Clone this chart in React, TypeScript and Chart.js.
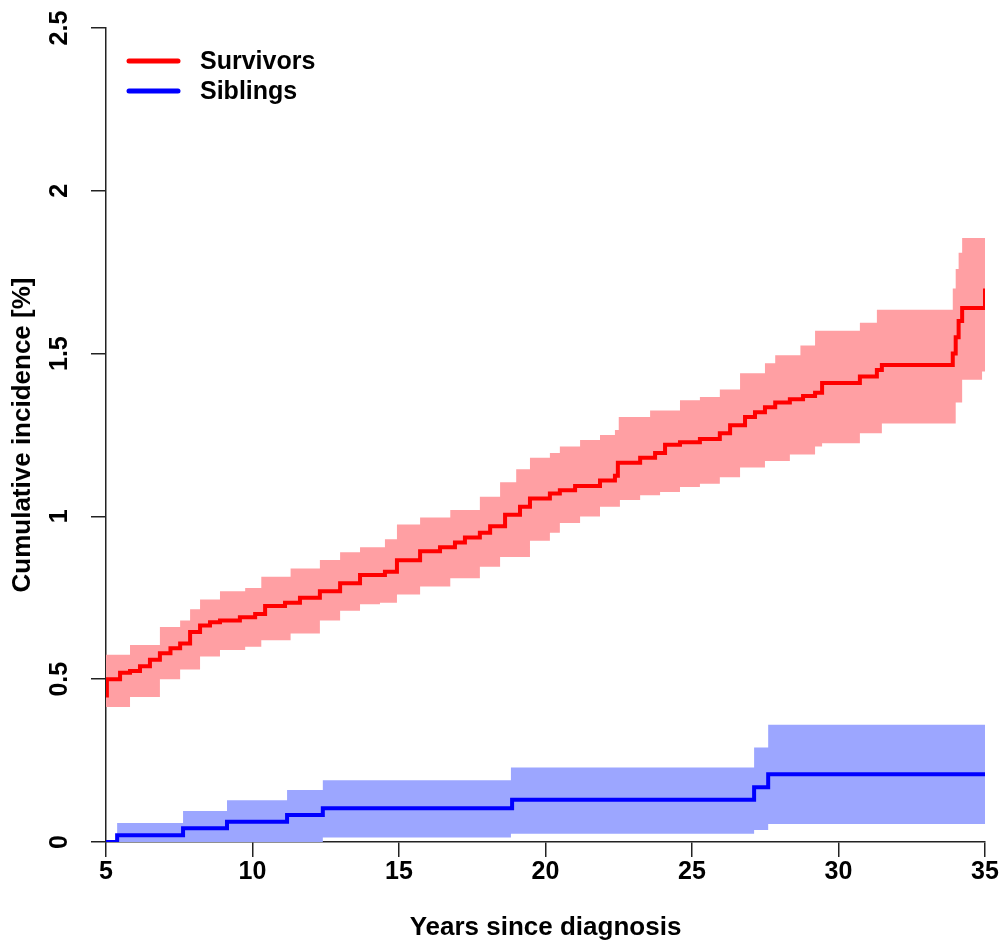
import React, { useEffect, useRef } from "react";
import { Chart, registerables } from "chart.js";

Chart.register(...registerables);

const FONT = '"Liberation Sans", Arial, Helvetica, sans-serif';

// Axes
const xTicks = [5, 10, 15, 20, 25, 30, 35];
const xTickLabels = ["5", "10", "15", "20", "25", "30", "35"];
const yTicks = [0, 0.5, 1, 1.5, 2, 2.5];
const yTickLabels = ["0", "0.5", "1", "1.5", "2", "2.5"];
const xTitle = "Years since diagnosis";
const yTitle = "Cumulative incidence [%]";
const seriesNames = ["Survivors", "Siblings"];

// Survivors: cumulative incidence estimate
const survivorsX = [5.0, 5.03, 5.48, 5.82, 6.16, 6.5, 6.84, 7.2, 7.53, 7.87, 8.21, 8.55, 8.89, 9.57, 10.09, 10.43, 11.11, 11.62, 12.3, 12.99, 13.67, 14.52, 14.93, 15.72, 16.4, 16.91, 17.25, 17.76, 18.11, 18.62, 19.13, 19.47, 20.15, 20.49, 21.01, 21.86, 22.37, 22.47, 23.23, 23.74, 24.08, 24.59, 25.27, 25.95, 26.3, 26.81, 27.15, 27.49, 27.84, 28.34, 28.79, 29.2, 29.44, 30.73, 31.31, 31.48, 33.81, 33.9, 34.0, 34.1, 34.22, 34.93, 35.0];
const survivorsY = [0.45, 0.5, 0.52, 0.525, 0.54, 0.56, 0.58, 0.595, 0.61, 0.645, 0.665, 0.675, 0.68, 0.69, 0.7, 0.725, 0.735, 0.75, 0.77, 0.795, 0.82, 0.83, 0.865, 0.893, 0.905, 0.92, 0.935, 0.95, 0.97, 1.005, 1.03, 1.055, 1.07, 1.08, 1.093, 1.11, 1.125, 1.165, 1.18, 1.195, 1.22, 1.228, 1.238, 1.255, 1.28, 1.305, 1.32, 1.335, 1.35, 1.36, 1.37, 1.38, 1.41, 1.43, 1.45, 1.465, 1.465, 1.5, 1.55, 1.6, 1.64, 1.64, 1.7];

// Survivors: upper confidence limit
const survivorsUpperX = [5.0, 5.82, 6.84, 7.53, 7.87, 8.21, 8.89, 9.75, 10.3, 11.3, 12.3, 12.99, 13.67, 14.52, 14.93, 15.72, 16.75, 17.76, 18.45, 19.0, 19.47, 20.15, 20.49, 21.18, 21.86, 22.37, 22.5, 23.57, 24.59, 25.27, 25.95, 26.64, 27.49, 27.84, 28.7, 29.2, 30.73, 31.31, 33.81, 33.9, 34.0, 34.1, 34.22, 34.9, 35.0];
const survivorsUpperY = [0.575, 0.605, 0.66, 0.68, 0.715, 0.745, 0.77, 0.78, 0.815, 0.84, 0.866, 0.89, 0.905, 0.93, 0.975, 0.997, 1.02, 1.06, 1.105, 1.145, 1.18, 1.195, 1.215, 1.235, 1.25, 1.265, 1.305, 1.325, 1.357, 1.367, 1.39, 1.44, 1.47, 1.495, 1.525, 1.57, 1.595, 1.635, 1.635, 1.7, 1.76, 1.81, 1.855, 1.855, 1.89];

// Survivors: lower confidence limit
const survivorsLowerX = [5.0, 5.82, 6.84, 7.53, 8.21, 8.89, 9.75, 10.3, 11.3, 12.3, 12.99, 13.67, 14.35, 14.93, 15.72, 16.75, 17.76, 18.45, 19.47, 20.15, 20.49, 21.18, 21.86, 22.54, 23.23, 23.91, 24.59, 25.27, 25.95, 26.64, 27.49, 28.34, 29.2, 29.44, 30.73, 31.48, 33.81, 34.0, 34.22, 34.9, 35.0];
const survivorsLowerY = [0.415, 0.445, 0.5, 0.53, 0.57, 0.59, 0.6, 0.62, 0.64, 0.68, 0.71, 0.73, 0.735, 0.76, 0.785, 0.81, 0.845, 0.875, 0.925, 0.95, 0.98, 1.0, 1.03, 1.05, 1.065, 1.075, 1.09, 1.1, 1.12, 1.15, 1.17, 1.19, 1.215, 1.225, 1.255, 1.285, 1.285, 1.35, 1.42, 1.445, 1.445];

// Siblings
const siblingsX = [5, 5.38, 7.63, 9.13, 11.18, 12.4, 18.86, 27.12, 27.6, 35];
const siblingsY = [0, 0.021, 0.042, 0.062, 0.083, 0.104, 0.13, 0.168, 0.208, 0.208];
const siblingsUpperX = [5, 5.38, 7.63, 9.13, 11.18, 12.4, 18.82, 27.12, 27.6, 35];
const siblingsUpperY = [0, 0.058, 0.095, 0.128, 0.16, 0.19, 0.229, 0.29, 0.36, 0.36];
const siblingsLowerX = [5, 12.4, 18.82, 27.12, 27.6, 35];
const siblingsLowerY = [0, 0.014, 0.025, 0.037, 0.055, 0.055];

const RED = "#FF0000";
const BLUE = "#0000FF";
const RED_BAND = "#FF9FA3";
const BLUE_BAND = "#9CA6FF";
const AXIS = "#222222";

const pts = (xs: number[], ys: number[]) =>
  xs.slice(0, Math.min(xs.length, ys.length)).map((x, i) => ({ x, y: ys[i] }));

const textPlugin = {
  id: "rStyleText",
  afterDraw(chart: any) {
    const ctx = chart.ctx as CanvasRenderingContext2D;
    const xs = chart.scales.x;
    const ys = chart.scales.y;
    const area = chart.chartArea;
    ctx.save();
    ctx.fillStyle = "#000";
    ctx.textAlign = "center";
    ctx.textBaseline = "middle";
    ctx.font = `bold 25px ${FONT}`;
    // x tick labels
    xTicks.forEach((v, i) => {
      ctx.fillText(xTickLabels[i], xs.getPixelForValue(v), area.bottom + 30);
    });
    // y tick labels (rotated, parallel to axis)
    yTicks.forEach((v, i) => {
      ctx.save();
      ctx.translate(area.left - 46, ys.getPixelForValue(v));
      ctx.rotate(-Math.PI / 2);
      ctx.fillText(yTickLabels[i], 0, 0);
      ctx.restore();
    });
    // titles
    ctx.font = `bold 26px ${FONT}`;
    ctx.fillText(xTitle, (area.left + area.right) / 2, area.bottom + 86);
    ctx.save();
    ctx.translate(area.left - 83, (area.top + area.bottom) / 2);
    ctx.rotate(-Math.PI / 2);
    ctx.fillText(yTitle, 0, 0);
    ctx.restore();
    // legend
    const colors = [RED, BLUE];
    ctx.font = `bold 25px ${FONT}`;
    ctx.textAlign = "left";
    seriesNames.forEach((name, i) => {
      const y = area.top + 33 + i * 30;
      ctx.strokeStyle = colors[i];
      ctx.lineWidth = 5;
      ctx.lineCap = "round";
      ctx.beginPath();
      ctx.moveTo(area.left + 23, y);
      ctx.lineTo(area.left + 72, y);
      ctx.stroke();
      ctx.fillText(name, area.left + 94, y + 1);
    });
    ctx.restore();
  },
};

export default function App() {
  const ref = useRef<HTMLCanvasElement | null>(null);
  useEffect(() => {
    if (!ref.current) return;
    const lineBase = {
      stepped: "before" as const,
      pointRadius: 0,
      tension: 0,
      fill: false,
    };
    const chart = new Chart(ref.current, {
      type: "line",
      data: {
        datasets: [
          { ...lineBase, label: seriesNames[0], data: pts(survivorsX, survivorsY), borderColor: RED, borderWidth: 4 },
          { ...lineBase, label: seriesNames[1], data: pts(siblingsX, siblingsY), borderColor: BLUE, borderWidth: 4 },
          { ...lineBase, label: "Survivors upper", data: pts(survivorsUpperX, survivorsUpperY), borderWidth: 0, borderColor: "rgba(0,0,0,0)", backgroundColor: RED_BAND, fill: "+1" },
          { ...lineBase, label: "Survivors lower", data: pts(survivorsLowerX, survivorsLowerY), borderWidth: 0, borderColor: "rgba(0,0,0,0)" },
          { ...lineBase, label: "Siblings upper", data: pts(siblingsUpperX, siblingsUpperY), borderWidth: 0, borderColor: "rgba(0,0,0,0)", backgroundColor: BLUE_BAND, fill: "+1" },
          { ...lineBase, label: "Siblings lower", data: pts(siblingsLowerX, siblingsLowerY), borderWidth: 0, borderColor: "rgba(0,0,0,0)" },
        ],
      },
      options: {
        responsive: false,
        animation: false,
        parsing: false as any,
        normalized: true,
        layout: { padding: { top: 28, right: 22, left: 0, bottom: 0 } },
        plugins: {
          legend: { display: false },
          tooltip: { enabled: false },
          title: { display: false },
        },
        scales: {
          x: {
            type: "linear",
            min: 5,
            max: 35,
            afterBuildTicks: (s: any) => {
              s.ticks = xTicks.map((v) => ({ value: v }));
            },
            afterFit: (s: any) => {
              s.height = 104;
            },
            ticks: { display: false },
            grid: { display: true, drawOnChartArea: false, drawTicks: true, tickLength: 15, color: AXIS, lineWidth: 1.5 },
            border: { display: true, color: AXIS, width: 1.5 },
          },
          y: {
            type: "linear",
            min: 0,
            max: 2.5,
            afterBuildTicks: (s: any) => {
              s.ticks = yTicks.map((v) => ({ value: v }));
            },
            afterFit: (s: any) => {
              s.width = 106;
            },
            ticks: { display: false },
            grid: { display: true, drawOnChartArea: false, drawTicks: true, tickLength: 15, color: AXIS, lineWidth: 1.5 },
            border: { display: true, color: AXIS, width: 1.5 },
          },
        },
      },
      plugins: [textPlugin],
    });
    return () => chart.destroy();
  }, []);
  return (
    <div style={{ position: "fixed", left: 0, top: 0, width: 1007, height: 946 }}>
      <canvas ref={ref} width={1007} height={946} style={{ display: "block" }} />
    </div>
  );
}
